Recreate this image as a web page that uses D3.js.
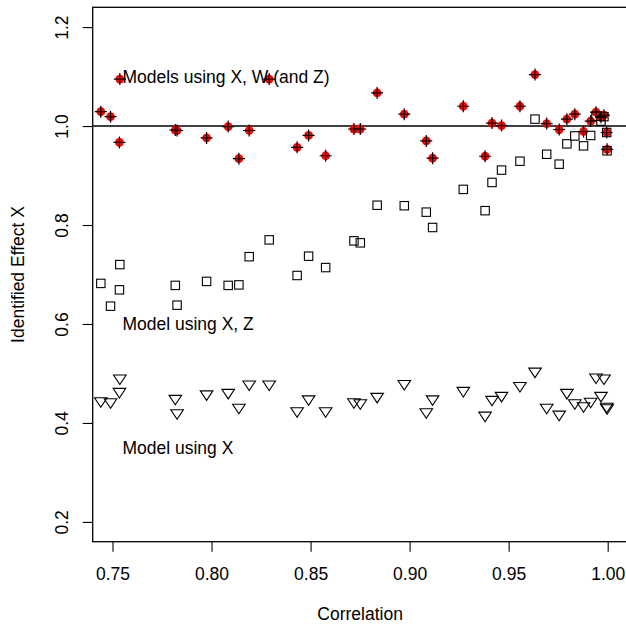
<!DOCTYPE html>
<html>
<head>
<meta charset="utf-8">
<script src="https://cdn.jsdelivr.net/npm/d3@7"></script>
<style>
  html, body { margin: 0; padding: 0; background: #fff; }
  svg { display: block; font-family: "Liberation Sans", Arial, Helvetica, sans-serif; }
</style>
</head>
<body>
<svg id="chart" width="626" height="627"></svg>
<script>
// Correlation between the predictors for each simulated scenario
const correlation = [
  0.7441, 0.7490, 0.7537, 0.7535, 0.7817, 0.7826, 0.7975, 0.8084, 0.8138, 0.8190,
  0.8291, 0.8432, 0.8490, 0.8576, 0.8719, 0.8751, 0.8836, 0.8973, 0.9084, 0.9116,
  0.9271, 0.9381, 0.9416, 0.9464, 0.9557, 0.9633, 0.9692, 0.9755, 0.9794, 0.9834,
  0.9878, 0.9914, 0.9941, 0.9966, 0.9981, 0.9995, 0.9997
];
// Identified effect of X when the model uses X, W (and Z)
const effectXW = [
  1.029, 1.019, 1.095, 0.967, 0.992, 0.991, 0.976, 0.999, 0.934, 0.991,
  1.095, 0.957, 0.981, 0.940, 0.994, 0.994, 1.067, 1.024, 0.970, 0.935,
  1.040, 0.939, 1.006, 1.001, 1.040, 1.104, 1.005, 0.993, 1.014, 1.024,
  0.989, 1.010, 1.028, 1.018, 1.022, 0.987, 0.953
];
// Identified effect of X when the model uses X and Z
const effectXZ = [
  0.682, 0.636, 0.720, 0.669, 0.678, 0.638, 0.686, 0.678, 0.679, 0.736,
  0.770, 0.698, 0.737, 0.714, 0.768, 0.764, 0.840, 0.839, 0.826, 0.795,
  0.872, 0.829, 0.886, 0.911, 0.929, 1.014, 0.943, 0.923, 0.964, 0.980,
  0.960, 0.981, 1.020, 1.010, 1.019, 0.987, 0.950
];
// Identified effect of X when the model uses X only
const effectX = [
  0.444, 0.442, 0.490, 0.463, 0.449, 0.420, 0.458, 0.461, 0.431, 0.478,
  0.478, 0.424, 0.448, 0.424, 0.442, 0.440, 0.453, 0.479, 0.422, 0.448,
  0.465, 0.415, 0.447, 0.455, 0.475, 0.504, 0.431, 0.417, 0.461, 0.440,
  0.434, 0.443, 0.492, 0.455, 0.490, 0.433, 0.430
];
const xTicks = [0.75, 0.80, 0.85, 0.90, 0.95, 1.00];
const yTicks = [0.2, 0.4, 0.6, 0.8, 1.0, 1.2];
const annotations = [
  { x: 0.755, y: 1.10, text: "Models using X, W (and Z)" },
  { x: 0.755, y: 0.60, text: "Model using X, Z" },
  { x: 0.755, y: 0.35, text: "Model using X" }
];

const svg = d3.select("#chart");
const plotLeft = 92.7, plotRight = 627.5, plotTop = 7.3, plotBottom = 541.7;
const fontSize = 17.5;

const x = d3.scaleLinear().domain([0.74, 1.01]).range([plotLeft, plotRight]);
const y = d3.scaleLinear().domain([0.16, 1.24]).range([plotBottom, plotTop]);

const rows = correlation.map((c, i) => ({ c, xw: effectXW[i], xz: effectXZ[i], xo: effectX[i] }));

// reference line at an effect of 1
svg.append("line")
  .attr("x1", plotLeft).attr("x2", plotRight)
  .attr("y1", y(1)).attr("y2", y(1))
  .attr("stroke", "#000").attr("stroke-width", 1.4);

// red filled dots for the X, W (and Z) models
svg.append("g").selectAll("circle").data(rows).join("circle")
  .attr("cx", d => x(d.c)).attr("cy", d => y(d.xw))
  .attr("r", 4.4).attr("fill", "#ff0000");

// open squares for the X, Z model
const sq = 8.4;
svg.append("g").selectAll("rect").data(rows).join("rect")
  .attr("x", d => x(d.c) - sq / 2).attr("y", d => y(d.xz) - sq / 2)
  .attr("width", sq).attr("height", sq)
  .attr("fill", "none").attr("stroke", "#000").attr("stroke-width", 1.1);

// open down-pointing triangles for the X-only model
const th = 5.6, tw = 6.3;
svg.append("g").selectAll("path").data(rows).join("path")
  .attr("d", d => {
    const cx = x(d.c), cy = y(d.xo);
    return `M${cx - tw},${cy - th * 0.6}L${cx + tw},${cy - th * 0.6}L${cx},${cy + th * 1.1}Z`;
  })
  .attr("fill", "none").attr("stroke", "#000").attr("stroke-width", 1.1);

// black plus marks over the red dots
const arm = 6;
svg.append("g").selectAll("path").data(rows).join("path")
  .attr("d", d => {
    const cx = x(d.c), cy = y(d.xw);
    return `M${cx - arm},${cy}H${cx + arm}M${cx},${cy - arm}V${cy + arm}`;
  })
  .attr("stroke", "#000").attr("stroke-width", 1.2).attr("fill", "none");

// annotation labels
svg.append("g").selectAll("text").data(annotations).join("text")
  .attr("x", d => x(d.x)).attr("y", d => y(d.y))
  .attr("dy", "0.35em")
  .attr("font-size", fontSize)
  .attr("fill", "#000")
  .text(d => d.text);

// plot frame
svg.append("rect")
  .attr("x", plotLeft).attr("y", plotTop)
  .attr("width", plotRight - plotLeft).attr("height", plotBottom - plotTop)
  .attr("fill", "none").attr("stroke", "#000").attr("stroke-width", 1.3);

// x axis
const gx = svg.append("g")
  .attr("transform", `translate(0,${plotBottom})`)
  .call(d3.axisBottom(x).tickValues(xTicks).tickFormat(d3.format(".2f")).tickSize(10).tickSizeOuter(0));
gx.select(".domain").remove();
gx.selectAll(".tick line").attr("stroke", "#000").attr("stroke-width", 1.1);
gx.selectAll(".tick text")
  .attr("y", 32.3).attr("dy", "0.35em")
  .attr("font-size", fontSize).attr("fill", "#000")
  .attr("font-family", "Liberation Sans, Arial, sans-serif");

// y axis with vertical tick labels
const gy = svg.append("g")
  .attr("transform", `translate(${plotLeft},0)`)
  .call(d3.axisLeft(y).tickValues(yTicks).tickFormat(d3.format(".1f")).tickSize(10).tickSizeOuter(0));
gy.select(".domain").remove();
gy.selectAll(".tick line").attr("stroke", "#000").attr("stroke-width", 1.1);
gy.selectAll(".tick text")
  .attr("x", 0).attr("dy", "0.35em")
  .attr("text-anchor", "middle")
  .attr("transform", "translate(-31,0) rotate(-90)")
  .attr("font-size", fontSize).attr("fill", "#000")
  .attr("font-family", "Liberation Sans, Arial, sans-serif");

// axis titles
svg.append("text")
  .attr("x", (plotLeft + plotRight) / 2).attr("y", 614).attr("dy", "0.35em")
  .attr("text-anchor", "middle").attr("font-size", fontSize)
  .text("Correlation");
svg.append("text")
  .attr("transform", `translate(18,${(plotTop + plotBottom) / 2}) rotate(-90)`)
  .attr("dy", "0.35em")
  .attr("text-anchor", "middle").attr("font-size", fontSize)
  .text("Identified Effect X");
</script>
</body>
</html>
